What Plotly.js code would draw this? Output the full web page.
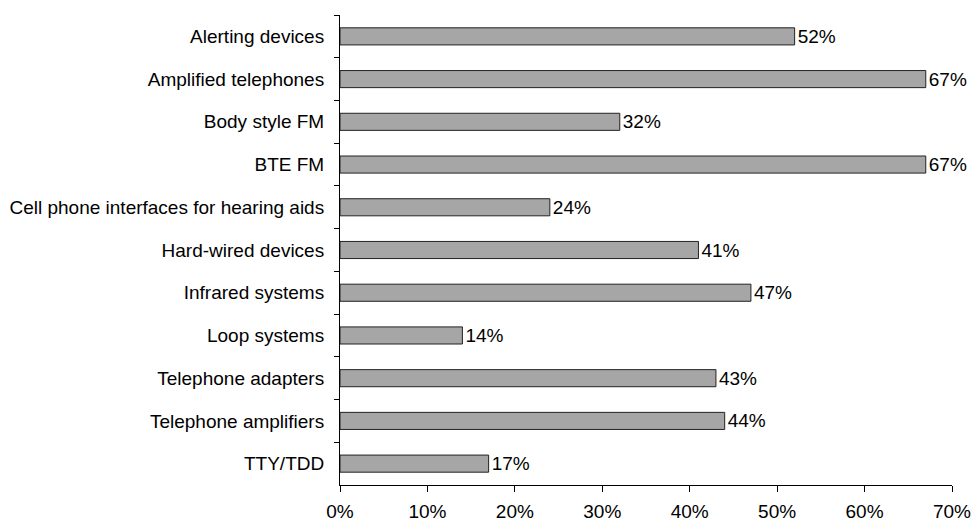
<!DOCTYPE html>
<html><head><meta charset="utf-8">
<script src="https://cdn.plot.ly/plotly-3.0.1.min.js"></script>
<style>html,body{margin:0;padding:0;background:#fff}#chart{width:974px;height:521px}</style>
</head><body><div id="chart"></div>
<script>
const categories = ["Alerting devices","Amplified telephones","Body style FM","BTE FM","Cell phone interfaces for hearing aids","Hard-wired devices","Infrared systems","Loop systems","Telephone adapters","Telephone amplifiers","TTY/TDD"];
const values = [0.52,0.67,0.32,0.67,0.24,0.41,0.47,0.14,0.43,0.44,0.17];
const labels = values.map(v => Math.round(v*100) + "%");
const xTicks = [0,0.1,0.2,0.3,0.4,0.5,0.6,0.7];
const xTickText = xTicks.map(v => Math.round(v*100) + "%");

const trace = {
  type: "bar", orientation: "h",
  y: categories, x: values,
  text: labels, textposition: "outside", cliponaxis: false, constraintext: "none",
  textfont: {family: "Liberation Sans, Arial, sans-serif", size: 19, color: "#000"},
  marker: {color: "#a6a6a6", line: {color: "#222", width: 1}},
  width: 0.4, hoverinfo: "none"
};
const layout = {
  width: 974, height: 521,
  margin: {l: 340, r: 21.5, t: 15, b: 36},
  paper_bgcolor: "#fff", plot_bgcolor: "#fff",
  showlegend: false,
  font: {family: "Liberation Sans, Arial, sans-serif", size: 19, color: "#000"},
  xaxis: {
    range: [0, 0.7], tickvals: xTicks, ticktext: xTickText,
    showgrid: false, zeroline: false, showline: true, linecolor: "#000", linewidth: 1,
    ticks: "outside", ticklen: 6, tickcolor: "#000", tickwidth: 1,
    tickfont: {size: 19, color: "#000"}, ticklabelstandoff: 3
  },
  yaxis: {
    autorange: "reversed", type: "category",
    showgrid: false, zeroline: false, showline: true, linecolor: "#000", linewidth: 1,
    ticks: "outside", tickson: "boundaries", ticklen: 5, tickcolor: "#000", tickwidth: 1,
    tickfont: {size: 19, color: "#000"}, ticklabelstandoff: 11
  }
};
Plotly.newPlot("chart", [trace], layout, {displayModeBar: false, staticPlot: true});
</script></body></html>
